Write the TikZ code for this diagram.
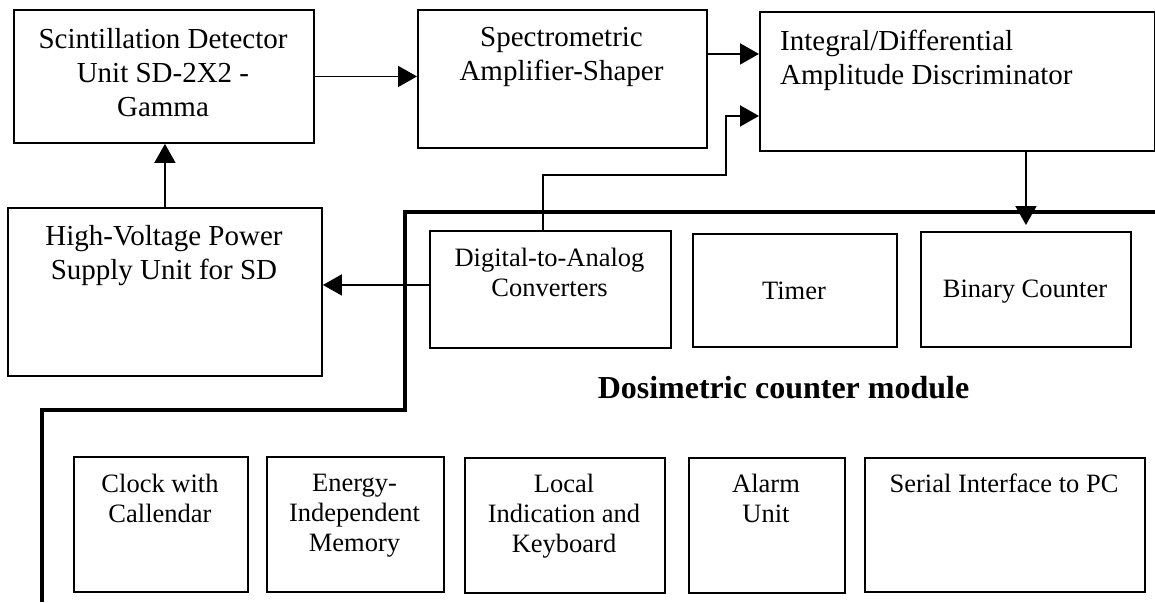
\documentclass[tikz,border=0pt]{standalone}
\usepackage{fontspec}
\setmainfont{Liberation Serif}
\usetikzlibrary{arrows.meta,calc}

\begin{document}
\begin{tikzpicture}[x=1pt,y=-1pt,
  box/.style={draw, line width=1.9pt, inner sep=0pt, anchor=north west},
  big/.style={font=\fontsize{29}{34}\selectfont, inner sep=0pt, align=center},
  small/.style={font=\fontsize{26.5}{30}\selectfont, inner sep=0pt, align=center},
  wire/.style={line width=1.8pt},
  arr/.style={wire, -{Triangle[length=19pt,width=21pt]}},
  bus/.style={line width=3.2pt}]

\useasboundingbox (0,0) rectangle (1155,602);

% ---- upper chain ----
\node[box, minimum width=300pt, minimum height=133pt] (sd) at (13,9) {};
\node[big, anchor=north] (sdt) at (163,28) {Scintillation Detector\\Unit SD-2X2 -\\Gamma};

\node[box, minimum width=289pt, minimum height=138pt] (spec) at (417,9) {};
\node[big, anchor=north] (spect) at (561.5,27) {Spectrometric\\Amplifier-Shaper};

\node[box, minimum width=395pt, minimum height=139pt] (disc) at (759,11) {};
\node[big, anchor=north west, align=left] (disct) at (780,30) {Integral/Differential\\Amplitude Discriminator};

\node[box, minimum width=314pt, minimum height=168pt] (hv) at (7,207) {};
\node[big, anchor=north] (hvt) at (164,225) {High-Voltage Power\\Supply Unit for SD};

% ---- counter module, first row ----
\node[box, minimum width=241pt, minimum height=117pt] (dac) at (429,230) {};
\node[small, anchor=north] (dact) at (549.5,248) {Digital-to-Analog\\Converters};

\node[box, minimum width=204pt, minimum height=113pt] (tmr) at (692,233) {};
\node[small, anchor=base] (tmrt) at (794,299) {Timer};

\node[box, minimum width=210pt, minimum height=115pt] (bin) at (920,231) {};
\node[small, anchor=base] (bint) at (1025,297) {Binary Counter};

% ---- module title ----
\node[font=\fontsize{32}{37}\selectfont\bfseries, inner sep=0pt, anchor=base] (title) at (783.5,398) {Dosimetric counter module};

% ---- counter module, second row ----
\node[box, minimum width=174pt, minimum height=135pt] (clk) at (73,456) {};
\node[small, anchor=north] (clkt) at (160,474) {Clock with\\Callendar};

\node[box, minimum width=177pt, minimum height=135pt] (mem) at (266,456) {};
\node[small, anchor=north] (memt) at (354.5,474) {Energy-\\Independent\\Memory};

\node[box, minimum width=200pt, minimum height=135pt] (loc) at (464,457) {};
\node[small, anchor=north] (loct) at (564,474) {Local\\Indication and\\Keyboard};

\node[box, minimum width=156pt, minimum height=135pt] (alm) at (688,457) {};
\node[small, anchor=north] (almt) at (766,474) {Alarm\\Unit};

\node[box, minimum width=280pt, minimum height=134pt] (ser) at (864,457) {};
\node[small, anchor=north] (sert) at (1004,474) {Serial Interface to PC};

% ---- module boundary ----
\coordinate (busR) at (1155,212);
\coordinate (busK) at (405,410);
\coordinate (busE) at (42,602);
\draw[bus] (busR) -| (busK) -| (busE);

% ---- signal connections ----
\draw[arr] (sd.east) -- (sd.east -| spec.west);
\draw[arr] ([yshift=25pt]spec.east) -- ([yshift=25pt]spec.east -| disc.west);
\coordinate (dacup) at (726,175);
\draw[arr] ([xshift=-7.5pt]dac.north) |- (dacup) |- ([yshift=-34.5pt]disc.west);
\draw[arr] (hv.north) -- (hv.north |- sd.south);
\draw[arr] ([yshift=4.5pt]dac.west) -- ([yshift=4.5pt]dac.west -| hv.east);
\draw[arr, shorten >=6pt] (bin.north |- disc.south) -- (bin.north);

\end{tikzpicture}
\end{document}
